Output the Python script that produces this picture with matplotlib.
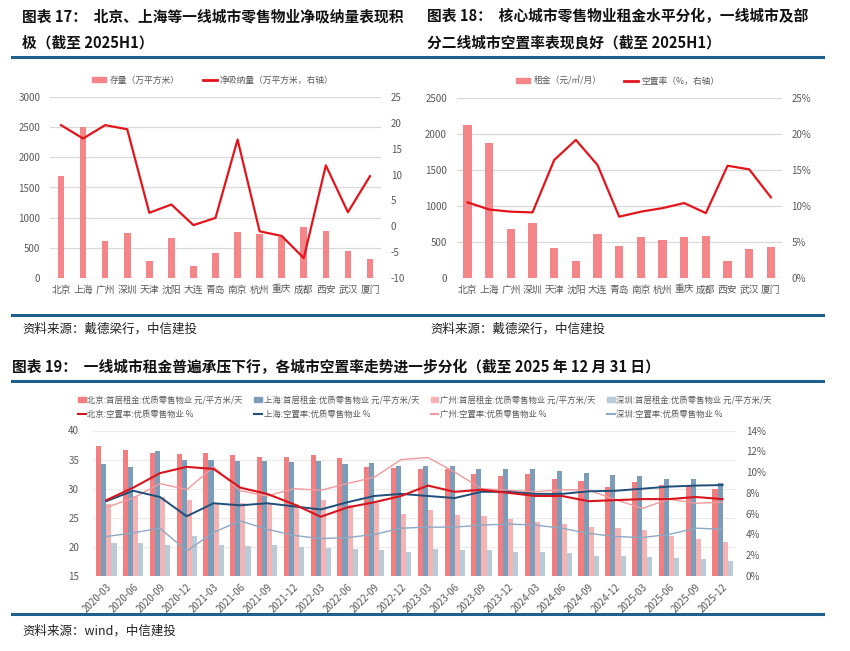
import matplotlib
matplotlib.use("Agg")
import matplotlib.pyplot as plt
import numpy as np
from matplotlib.lines import Line2D
from matplotlib.patches import Patch

plt.rcParams['font.family'] = ['Noto Sans CJK SC', 'DejaVu Sans']
plt.rcParams['axes.unicode_minus'] = False

# ---- data: chart 17 ----
cities = ["北京", "上海", "广州", "深圳", "天津", "沈阳", "大连", "青岛",
          "南京", "杭州", "重庆", "成都", "西安", "武汉", "厦门"]
stock = [1690, 2500, 605, 745, 283, 655, 200, 416, 760, 727, 682, 849, 772, 444, 306]
net_absorb = [19.6, 17.0, 19.6, 18.8, 2.6, 4.2, 0.2, 1.6, 16.8, -1.0, -1.9, -6.2, 11.8, 2.7, 9.7]

# ---- data: chart 18 ----
rent = [2130, 1880, 674, 762, 409, 232, 608, 437, 571, 525, 567, 585, 232, 405, 432]
vacancy = [10.5, 9.5, 9.2, 9.1, 16.4, 19.2, 15.7, 8.5, 9.2, 9.7, 10.4, 9.0, 15.6, 15.1, 11.2]

# ---- data: chart 19 ----
quarters = ["2020-03", "2020-06", "2020-09", "2020-12", "2021-03", "2021-06", "2021-09", "2021-12",
            "2022-03", "2022-06", "2022-09", "2022-12", "2023-03", "2023-06", "2023-09", "2023-12",
            "2024-03", "2024-06", "2024-09", "2024-12", "2025-03", "2025-06", "2025-09", "2025-12"]
bj_rent = [37.4, 36.7, 36.2, 36.0, 36.2, 35.8, 35.5, 35.5, 35.8, 35.3, 33.8, 33.5,
           33.3, 33.4, 32.6, 32.2, 32.5, 31.7, 31.4, 30.3, 31.1, 30.7, 30.4, 29.9]
sh_rent = [34.2, 33.8, 36.4, 34.9, 34.9, 34.7, 34.7, 34.6, 34.7, 34.3, 34.4, 33.9,
           33.9, 33.9, 33.4, 33.3, 33.3, 33.1, 32.7, 32.3, 32.2, 31.7, 31.6, 31.0]
gz_rent = [27.3, 28.7, 28.5, 28.0, 27.3, 27.5, 27.4, 27.4, 28.0, 27.2, 27.5, 25.7,
           26.4, 25.4, 25.3, 24.8, 24.2, 23.9, 23.4, 23.2, 22.9, 21.8, 21.3, 20.8]
sz_rent = [20.6, 20.6, 20.3, 21.9, 20.3, 20.1, 20.3, 19.9, 19.8, 19.7, 19.4, 19.2,
           19.7, 19.5, 19.5, 19.1, 19.1, 19.0, 18.5, 18.4, 18.3, 18.1, 18.0, 17.6]
bj_vac = [7.3, 8.5, 9.9, 10.5, 10.3, 8.5, 7.9, 6.9, 5.7, 6.6, 7.1, 7.7,
          8.7, 8.1, 8.3, 8.0, 7.7, 7.7, 7.2, 7.3, 7.4, 7.4, 7.6, 7.4]
sh_vac = [7.2, 8.2, 7.6, 5.75, 7.0, 6.8, 7.0, 6.7, 6.4, 7.1, 7.7, 7.9,
          7.7, 7.5, 8.1, 8.1, 7.9, 7.9, 8.15, 8.2, 8.4, 8.6, 8.7, 8.75]
gz_vac = [6.6, 7.5, 8.9, 8.3, 10.5, 8.2, 7.7, 8.4, 8.25, 8.9, 9.5, 11.2,
          11.4, 10.0, 8.4, 8.25, 8.1, 8.3, 8.25, 7.35, 6.5, 7.4, 7.0, 7.1]
sz_vac = [3.8, 4.15, 4.6, 2.4, 4.2, 5.3, 4.5, 3.9, 3.6, 3.7, 4.0, 4.6,
          4.7, 4.7, 4.9, 5.0, 4.9, 4.6, 4.1, 3.8, 3.7, 4.0, 4.6, 4.5]

W, H = 850, 651
fig = plt.figure(figsize=(W / 100, H / 100), dpi=100)


def fx(x):
    return x / W


def fy(y):
    return 1 - y / H


def rect(x0, y0, x1, y1):
    return [fx(x0), fy(y1), fx(x1) - fx(x0), (y1 - y0) / H]


bar_red = "#F4868A"
line_red = "#E3141B"
tick_col = "#595959"
grid_col = "#D9D9D9"
rule_col = "#1F5F8B"

# ---- headings / rules / sources ----
title_kw = dict(fontsize=10.6, fontweight="bold", color="#111111", va="center", ha="left")
fig.text(fx(22), fy(16), "图表 17：  北京、上海等一线城市零售物业净吸纳量表现积", **title_kw)
fig.text(fx(22), fy(43), "极（截至 2025H1）", **title_kw)
fig.text(fx(427), fy(16), "图表 18：  核心城市零售物业租金水平分化，一线城市及部", **title_kw)
fig.text(fx(427), fy(43), "分二线城市空置率表现良好（截至 2025H1）", **title_kw)
fig.text(fx(12), fy(367), "图表 19：  一线城市租金普遍承压下行，各城市空置率走势进一步分化（截至 2025 年 12 月 31 日）",
         **title_kw)

for yy in (57, 315, 381, 614):
    fig.add_artist(Line2D([fx(12), fx(823)], [fy(yy), fy(yy)], color=rule_col, lw=2.2))

src_kw = dict(fontsize=9, style="italic", color="#222222", va="center", ha="left")
fig.text(fx(22), fy(329), "资料来源：戴德梁行，中信建投", **src_kw)
fig.text(fx(430), fy(329), "资料来源：戴德梁行，中信建投", **src_kw)
fig.text(fx(22), fy(631), "资料来源：wind，中信建投", **src_kw)


def style_top(ax, ax2):
    for a in (ax, ax2):
        for s in a.spines.values():
            s.set_visible(False)
        a.tick_params(length=0, labelsize=7, colors=tick_col)
    ax.yaxis.grid(True, color=grid_col, lw=0.9)
    ax.set_axisbelow(True)
    ax.tick_params(axis="y", pad=7)
    ax2.tick_params(axis="y", pad=7)
    ax.tick_params(axis="x", labelsize=7, pad=5)


leg_kw = dict(loc="center", ncol=2, frameon=False, fontsize=6.3, labelcolor=tick_col,
              handlelength=1.6, handleheight=0.5, columnspacing=2.6, handletextpad=0.4)

# ---- chart 17 ----
x15 = np.arange(len(cities))
ax1 = fig.add_axes(rect(50, 97.3, 381, 277.7))
ax1.bar(x15, stock, width=0.3, color=bar_red)
ax1.set_ylim(0, 3000)
ax1.set_yticks(np.arange(0, 3001, 500))
ax1.set_xlim(-0.5, len(cities) - 0.5)
ax1.set_xticks(x15)
ax1.set_xticklabels(cities)
ax1b = ax1.twinx()
ax1b.plot(x15, net_absorb, color=line_red, lw=1.6)
ax1b.set_ylim(-10, 25)
ax1b.set_yticks(np.arange(-10, 26, 5))
style_top(ax1, ax1b)
fig.legend([Patch(color=bar_red), Line2D([], [], color=line_red, lw=2)],
           ["存量（万平方米）", "净吸纳量（万平方米，右轴）"],
           bbox_to_anchor=(fx(213), fy(80)), **leg_kw)

# ---- chart 18 ----
ax2 = fig.add_axes(rect(456.7, 98.3, 781.7, 277.7))
ax2.bar(x15, rent, width=0.38, color=bar_red)
ax2.set_ylim(0, 2500)
ax2.set_yticks(np.arange(0, 2501, 500))
ax2.set_xlim(-0.5, len(cities) - 0.5)
ax2.set_xticks(x15)
ax2.set_xticklabels(cities)
ax2b = ax2.twinx()
ax2b.plot(x15, vacancy, color=line_red, lw=1.6)
ax2b.set_ylim(0, 25)
ax2b.set_yticks(np.arange(0, 26, 5))
ax2b.set_yticklabels([f"{v}%" for v in range(0, 26, 5)])
style_top(ax2, ax2b)
fig.legend([Patch(color=bar_red), Line2D([], [], color=line_red, lw=2)],
           ["租金（元/㎡/月）", "空置率（%，右轴）"],
           bbox_to_anchor=(fx(618), fy(81)), **leg_kw)

# ---- chart 19 ----
c_bj, c_sh, c_gz, c_sz = "#F27E80", "#7C9DB9", "#F6B3B4", "#BACBD8"
l_bj, l_sh, l_gz, l_sz = "#D8141C", "#1F4E79", "#F09A9C", "#8DA9C4"
xq = np.arange(len(quarters))
bw = 0.19
ax3 = fig.add_axes(rect(93, 430.5, 736, 576))
ax3.bar(xq - 1.5 * bw, bj_rent, width=bw, color=c_bj)
ax3.bar(xq - 0.5 * bw, sh_rent, width=bw, color=c_sh)
ax3.bar(xq + 0.5 * bw, gz_rent, width=bw, color=c_gz)
ax3.bar(xq + 1.5 * bw, sz_rent, width=bw, color=c_sz)
ax3.set_ylim(15, 40)
ax3.set_yticks(np.arange(15, 41, 5))
ax3.set_xlim(-0.5, len(quarters) - 0.5)
ax3.set_xticks(xq)
ax3.set_xticklabels(quarters, rotation=45, ha="right", rotation_mode="anchor")
ax3.yaxis.grid(True, color="#EBEBEB", lw=0.9)
ax3.set_axisbelow(True)
ax3b = ax3.twinx()
ax3b.plot(xq, gz_vac, color=l_gz, lw=1.0)
ax3b.plot(xq, sz_vac, color=l_sz, lw=1.0)
ax3b.plot(xq, sh_vac, color=l_sh, lw=1.4)
ax3b.plot(xq, bj_vac, color=l_bj, lw=1.5)
ax3b.set_ylim(0, 14)
ax3b.set_yticks(np.arange(0, 15, 2))
ax3b.set_yticklabels([f"{v}%" for v in range(0, 15, 2)])
for a in (ax3, ax3b):
    for s in a.spines.values():
        s.set_visible(False)
    a.tick_params(length=0, labelsize=7, colors=tick_col)
ax3.tick_params(axis="y", pad=10)
ax3b.tick_params(axis="y", pad=7)
ax3.tick_params(axis="x", pad=4)

handles = [Patch(color=c_bj), Line2D([], [], color=l_bj, lw=1.5),
           Patch(color=c_sh), Line2D([], [], color=l_sh, lw=1.5),
           Patch(color=c_gz), Line2D([], [], color=l_gz, lw=1.5),
           Patch(color=c_sz), Line2D([], [], color=l_sz, lw=1.5)]
labels = ["北京:首层租金:优质零售物业 元/平方米/天", "北京:空置率:优质零售物业 %",
          "上海:首层租金:优质零售物业 元/平方米/天", "上海:空置率:优质零售物业 %",
          "广州:首层租金:优质零售物业 元/平方米/天", "广州:空置率:优质零售物业 %",
          "深圳:首层租金:优质零售物业 元/平方米/天", "深圳:空置率:优质零售物业 %"]
fig.legend(handles, labels, loc="center", bbox_to_anchor=(fx(425), fy(407)), ncol=4,
           frameon=False, fontsize=6.0, labelcolor=tick_col, handlelength=0.9,
           handleheight=0.6, handletextpad=0.2, columnspacing=1.4, labelspacing=0.6)

fig.savefig("out.png", dpi=100)
